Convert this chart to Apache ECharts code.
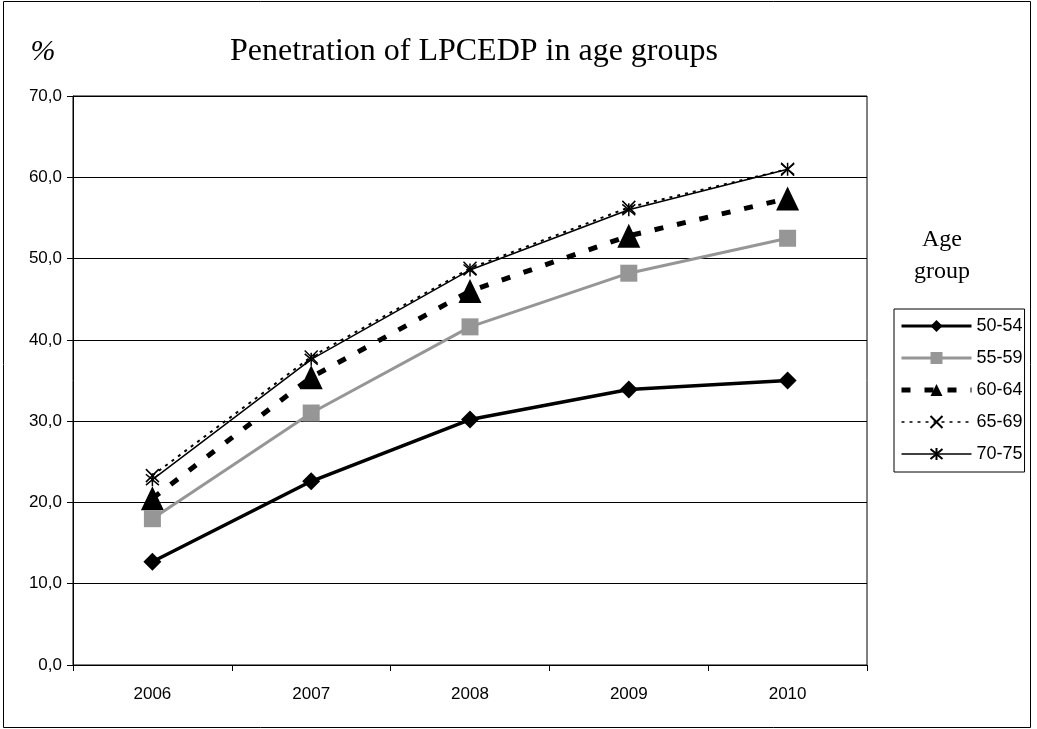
<!DOCTYPE html>
<html>
<head>
<meta charset="utf-8">
<script src="https://cdn.jsdelivr.net/npm/echarts@6/dist/echarts.min.js"></script>
<style>
  html, body { margin: 0; padding: 0; background: #fff; }
  #chart { width: 1037px; height: 729px; }
</style>
</head>
<body>
<div id="chart"></div>
<script>
// Penetration of LPCEDP by age group, 2006-2010 (%)
const years = ['2006', '2007', '2008', '2009', '2010'];
const age5054 = [12.7, 22.6, 30.2, 33.9, 35.0];
const age5559 = [18.0, 31.0, 41.6, 48.2, 52.5];
const age6064 = [20.5, 35.4, 46.0, 52.8, 57.4];
const age6569 = [23.3, 37.9, 48.8, 56.3, 61.0];
const age7075 = [22.8, 37.6, 48.6, 56.0, 61.0];
const seriesNames = ['50-54', '55-59', '60-64', '65-69', '70-75'];
const yTicks = { min: 0, max: 70, step: 10 };

const crossPath = 'path://M0,0L10,10M10,0L0,10';
const starPath = 'path://M0,0L10,10M10,0L0,10M5,-1L5,11';

const chart = echarts.init(document.getElementById('chart'));

const sans = 'Liberation Sans, Arial, sans-serif';
const serif = '"Liberation Serif", "Times New Roman", serif';
const axisFont = { fontFamily: sans, fontSize: 17, color: '#000' };

// Legend samples keep the heavier strokes of the first three series
const legendLineWidths = [3, 3, 5, 1.5, 1.5];

chart.setOption({
  animation: false,
  backgroundColor: '#fff',
  grid: { left: 73, right: 170, top: 96, bottom: 64, show: true, borderColor: '#000', borderWidth: 1, backgroundColor: 'transparent' },
  xAxis: {
    type: 'category',
    data: years,
    boundaryGap: true,
    axisLine: { lineStyle: { color: '#000', width: 1 } },
    axisTick: { show: true, length: 6, lineStyle: { color: '#000' } },
    axisLabel: Object.assign({ margin: 21 }, axisFont),
    splitLine: { show: false }
  },
  yAxis: {
    type: 'value',
    min: yTicks.min,
    max: yTicks.max,
    interval: yTicks.step,
    axisLine: { show: true, lineStyle: { color: '#000', width: 1 } },
    axisTick: { show: true, length: 6, lineStyle: { color: '#000' } },
    axisLabel: Object.assign({ margin: 11, formatter: v => v.toFixed(1).replace('.', ',') }, axisFont),
    splitLine: { show: true, lineStyle: { color: '#000', width: 1 } }
  },
  legend: {
    orient: 'vertical',
    left: 894,
    top: 309,
    width: 130,
    padding: [8, 2, 9, 5],
    itemWidth: 70,
    itemHeight: 15,
    itemGap: 14,
    borderColor: '#000',
    borderWidth: 1,
    textStyle: { fontFamily: sans, fontSize: 18, color: '#000' },
    data: seriesNames.map((n, i) => ({ name: n, lineStyle: { width: legendLineWidths[i] } }))
  },
  graphic: [
    { type: 'rect', shape: { x: 3.5, y: 1.5, width: 1027, height: 726 }, style: { fill: 'none', stroke: '#000', lineWidth: 1 }, silent: true },
    { type: 'text', style: { text: 'Penetration of LPCEDP in age groups', x: 474, y: 52, align: 'center', verticalAlign: 'middle', font: '32px ' + serif, fill: '#000' } },
    { type: 'text', style: { text: '%', x: 43, y: 52, align: 'center', verticalAlign: 'middle', font: 'italic 30px ' + serif, fill: '#000' } },
    { type: 'text', style: { text: 'Age', x: 942, y: 240, align: 'center', verticalAlign: 'middle', font: '24px ' + serif, fill: '#000' } },
    { type: 'text', style: { text: 'group', x: 942, y: 272, align: 'center', verticalAlign: 'middle', font: '24px ' + serif, fill: '#000' } }
  ],
  series: [
    {
      name: seriesNames[0], type: 'line', data: age5054, z: 5,
      symbol: 'diamond', symbolSize: 18,
      lineStyle: { color: '#000', width: 3.5 },
      itemStyle: { color: '#000' }
    },
    {
      name: seriesNames[1], type: 'line', data: age5559, z: 4,
      symbol: 'rect', symbolSize: 17,
      lineStyle: { color: '#969696', width: 3 },
      itemStyle: { color: '#969696' }
    },
    {
      name: seriesNames[2], type: 'line', data: age6064, z: 3,
      symbol: 'triangle', symbolSize: [23, 24],
      lineStyle: { color: '#000', width: 5, type: [9, 14] },
      itemStyle: { color: '#000' }
    },
    {
      name: seriesNames[3], type: 'line', data: age6569, z: 2,
      symbol: crossPath, symbolSize: 13,
      lineStyle: { color: '#000', width: 2, type: [3, 5] },
      itemStyle: { color: 'rgba(0,0,0,0)', borderColor: '#000', borderWidth: 1.5 }
    },
    {
      name: seriesNames[4], type: 'line', data: age7075, z: 2,
      symbol: starPath, symbolSize: 13,
      lineStyle: { color: '#000', width: 1.5 },
      itemStyle: { color: 'rgba(0,0,0,0)', borderColor: '#000', borderWidth: 1.5 }
    }
  ]
});
</script>
</body>
</html>
